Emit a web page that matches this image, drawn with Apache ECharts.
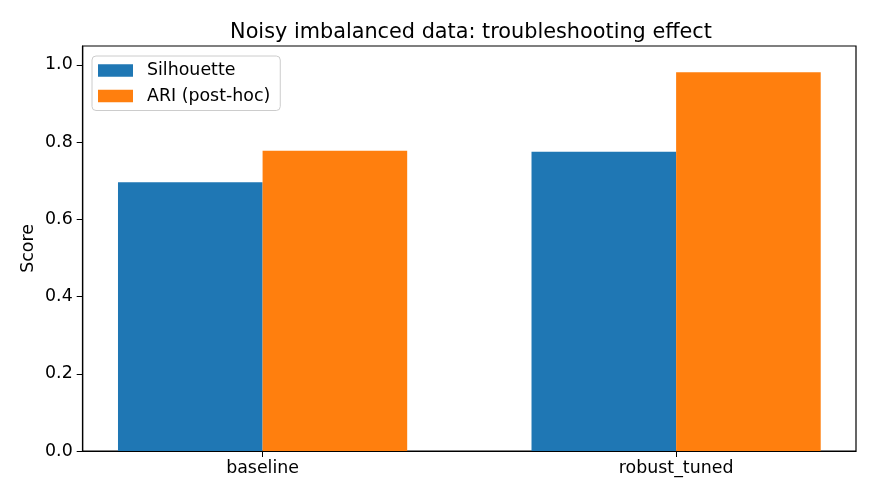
<!DOCTYPE html>
<html>
<head>
<meta charset="utf-8">
<script src="https://cdn.jsdelivr.net/npm/echarts@6/dist/echarts.min.js"></script>
<style>
  html, body { margin: 0; padding: 0; background: #fff; }
  #chart { width: 875px; height: 500px; }
</style>
</head>
<body>
<div id="chart"></div>
<script>
var categories = ['baseline', 'robust_tuned'];
var silhouette = [0.696, 0.775];
var ari = [0.778, 0.981];
var yTicks = [0, 0.2, 0.4, 0.6, 0.8, 1.0];

var chart = echarts.init(document.getElementById('chart'));
var font = 'DejaVu Sans';

function pairs(vals) {
    return vals.map(function (v, i) { return [i, v]; });
}

chart.setOption({
    animation: false,
    textStyle: { fontFamily: font },
    title: {
        text: 'Noisy imbalanced data: troubleshooting effect',
        left: 466,
        top: 17,
        textAlign: 'center',
        textStyle: { fontFamily: font, fontSize: 20.8, fontWeight: 'normal', color: '#000' }
    },
    legend: {
        left: 92,
        top: 56,
        orient: 'vertical',
        icon: 'rect',
        itemWidth: 35,
        itemHeight: 12.4,
        itemGap: 8.5,
        padding: [6, 10, 6, 6],
        borderColor: '#cccccc',
        borderWidth: 1,
        borderRadius: 4,
        backgroundColor: 'rgba(255,255,255,0.8)',
        textStyle: { fontFamily: font, fontSize: 17.4, color: '#000', padding: [0, 0, 0, 9] },
        data: ['Silhouette', 'ARI (post-hoc)']
    },
    grid: {
        left: 82.7, right: 19, top: 46, bottom: 49,
        show: true, borderColor: '#000', borderWidth: 1.2, backgroundColor: 'transparent'
    },
    xAxis: {
        type: 'value',
        min: -0.435,
        max: 1.435,
        splitLine: { show: false },
        axisLine: { show: true, onZero: false, lineStyle: { color: '#000', width: 1.2 } },
        axisTick: { show: true, customValues: [0, 1], length: 6, lineStyle: { color: '#000' } },
        axisLabel: {
            customValues: [0, 1],
            fontFamily: font, fontSize: 17.4, color: '#000', margin: 9,
            formatter: function (v) { return categories[Math.round(v)]; }
        }
    },
    yAxis: {
        type: 'value',
        min: 0,
        max: 1.049,
        name: 'Score',
        nameLocation: 'middle',
        nameGap: 46,
        nameMoveOverlap: false,
        nameTextStyle: { fontFamily: font, fontSize: 17.4, color: '#000' },
        splitLine: { show: false },
        axisLine: { show: true, onZero: false, lineStyle: { color: '#000', width: 1.2 } },
        axisTick: { show: true, customValues: yTicks, length: 6, lineStyle: { color: '#000' } },
        axisLabel: {
            customValues: yTicks,
            fontFamily: font, fontSize: 17.4, color: '#000', margin: 10,
            formatter: function (v) { return v.toFixed(1); }
        }
    },
    series: [{
        name: 'Silhouette',
        type: 'bar',
        barWidth: 144.6,
        barGap: '0%',
        itemStyle: { color: '#1f77b4' },
        data: pairs(silhouette)
    }, {
        name: 'ARI (post-hoc)',
        type: 'bar',
        barWidth: 144.6,
        barGap: '0%',
        itemStyle: { color: '#ff7f0e' },
        data: pairs(ari)
    }]
});
</script>
</body>
</html>
